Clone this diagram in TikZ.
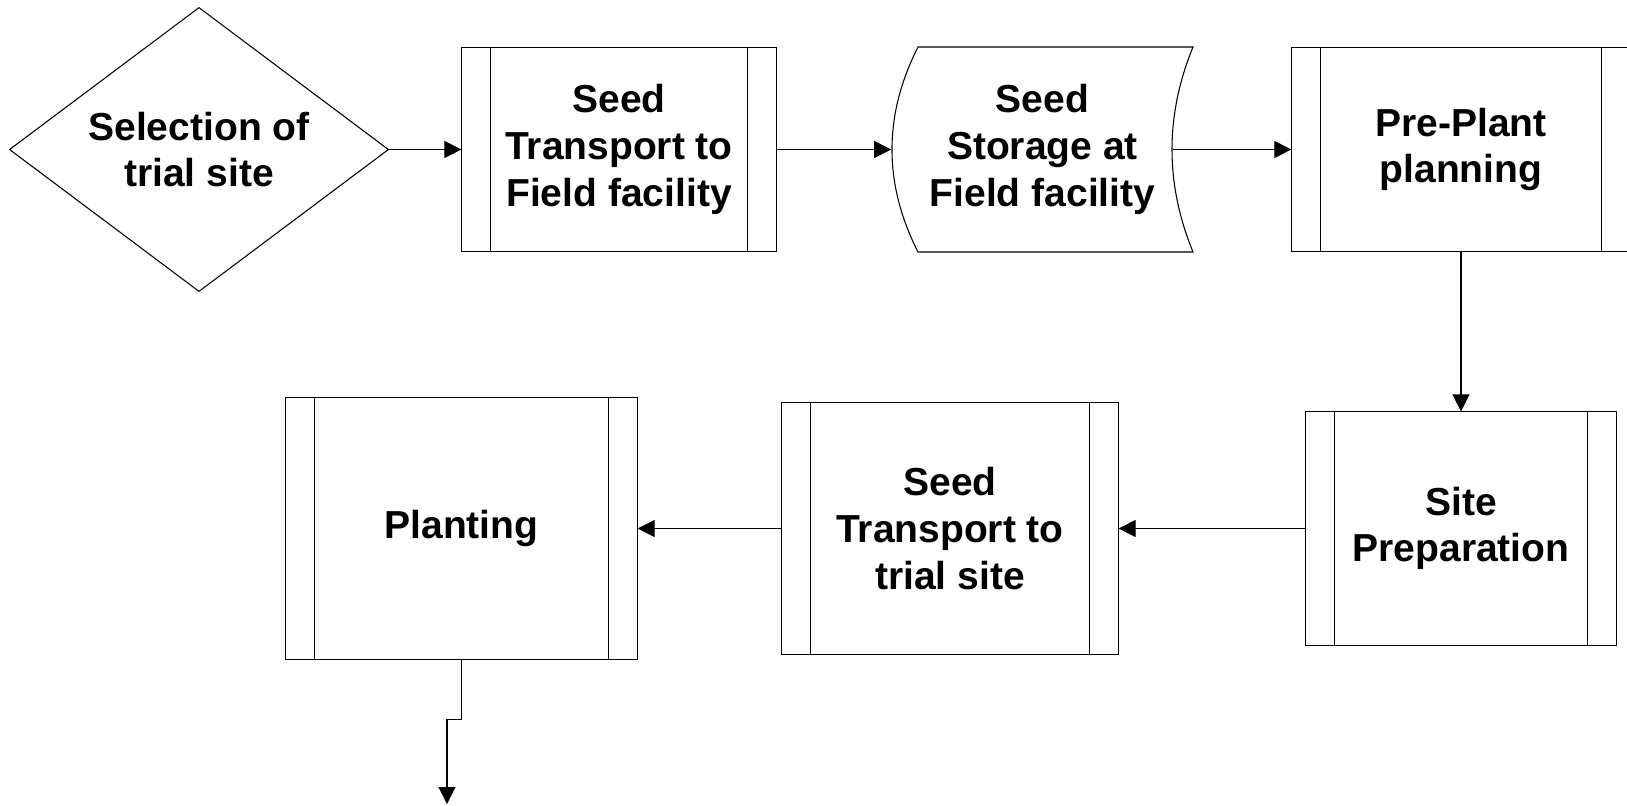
\documentclass[tikz,border=0pt]{standalone}
\usepackage{fontspec}
\setmainfont{Liberation Sans}
\usetikzlibrary{shapes.geometric,arrows.meta}

\begin{document}
\begin{tikzpicture}[x=0.01cm,y=-0.01cm]
	\tikzstyle{every node}+=[inner sep=0pt, align=center, font=\fontsize{11.1}{13.3}\selectfont\bfseries]
	\tikzstyle{proc}=[draw, rectangle, line width=0.3pt, path picture={\draw [line width=0.3pt] ([xshift=0.29cm]path picture bounding box.north west) -- ([xshift=0.29cm]path picture bounding box.south west) ([xshift=-0.29cm]path picture bounding box.north east) -- ([xshift=-0.29cm]path picture bounding box.south east);}]
	\tikzstyle{flow}=[line width=0.3pt, -{Triangle[length=0.17cm,width=0.17cm]}]
	\useasboundingbox (0,0) rectangle (1627,805);
	\node [draw, diamond, aspect=1.33, minimum width=3.79cm, minimum height=2.84cm, line width=0.3pt] (select) at (199,149.5) {Selection of\\trial site};
	\node [proc, minimum width=3.14cm, minimum height=2.04cm] (fieldtrans) at (619,149.5) {Seed\\Transport to\\Field facility};
	\node [minimum width=3.01cm, minimum height=2.05cm] (store) at (1042.5,149.5) {Seed\\Storage at\\Field facility};
	\draw [line width=0.3pt, shift={(store.center)}] (-124.5,-102.5) .. controls (-159.2,-34.2) and (-159.2,34.2) .. (-124.5,102.5) -- (150.5,102.5) .. controls (122.5,34.2) and (122.5,-34.2) .. (150.5,-102.5) -- cycle;
	\coordinate (storeout) at ([xshift=-0.21cm]store.east);
	\node [proc, minimum width=3.38cm, minimum height=2.03cm] (preplant) at (1461,149.5) {Pre-Plant\\planning};
	\node [proc, minimum width=3.11cm, minimum height=2.33cm] (siteprep) at (1461,528.5) {Site\\Preparation};
	\node [proc, minimum width=3.36cm, minimum height=2.51cm] (trialtrans) at (950,528.5) {Seed\\Transport to\\trial site};
	\node [proc, minimum width=3.51cm, minimum height=2.62cm] (planting) at (461.5,528.5) {Planting};
	\coordinate (next) at (447,804);
	\draw [flow] (select.east) -- (fieldtrans.west);
	\draw [flow] (fieldtrans.east) -- (store.west);
	\draw [flow] (storeout) -- (preplant.west);
	\draw [flow] (preplant.south) -- (siteprep.north);
	\draw [flow] (siteprep.west) -- (trialtrans.east);
	\draw [flow] (trialtrans.west) -- (planting.east);
	\draw [flow] (planting.south) -- ++(0,59) -| (next);
\end{tikzpicture}
\end{document}
